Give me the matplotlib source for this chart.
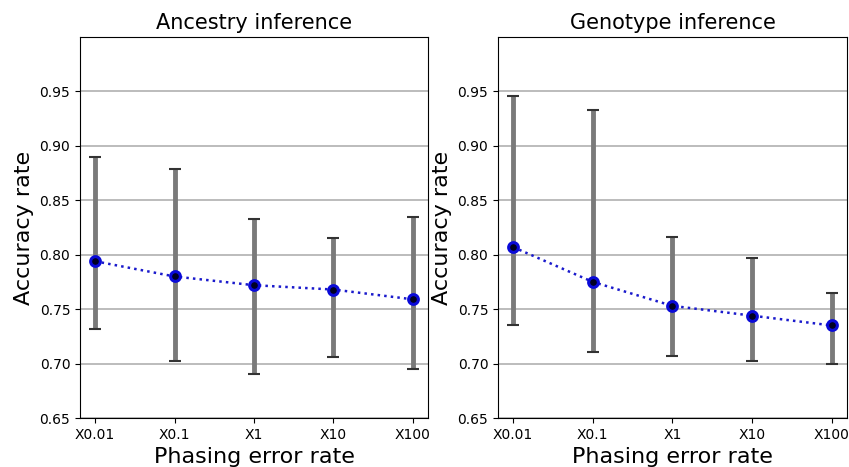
import matplotlib
matplotlib.use("Agg")
import matplotlib.pyplot as plt
import numpy as np

categories = ["X0.01", "X0.1", "X1", "X10", "X100"]
anc_mean = [0.794, 0.780, 0.772, 0.768, 0.759]
anc_low = [0.732, 0.702, 0.690, 0.706, 0.695]
anc_high = [0.890, 0.879, 0.833, 0.815, 0.835]
gen_mean = [0.807, 0.775, 0.753, 0.744, 0.735]
gen_low = [0.735, 0.711, 0.707, 0.702, 0.700]
gen_high = [0.946, 0.933, 0.816, 0.797, 0.765]
yticks = [0.65, 0.70, 0.75, 0.80, 0.85, 0.90, 0.95]

fig = plt.figure(figsize=(8.49, 4.67), dpi=100)
ax1 = fig.add_axes([80 / 849, 1 - 418 / 467, 348 / 849, 381 / 467])
ax2 = fig.add_axes([498 / 849, 1 - 418 / 467, 349 / 849, 381 / 467])

def draw(ax, title, mean, low, high):
    x = np.arange(len(categories))
    mean = np.array(mean); low = np.array(low); high = np.array(high)
    ax.errorbar(x, mean, yerr=[mean - low, high - mean], fmt="none",
                ecolor="#7a7a7a", elinewidth=3.5, capsize=0, zorder=2)
    ax.errorbar(x, mean, yerr=[mean - low, high - mean], fmt="none",
                ecolor="#333333", elinewidth=0, capsize=4, capthick=1.5, zorder=2.5)
    ax.plot(x, mean, linestyle=":", color="#1a1acc", linewidth=1.8,
            marker="o", markersize=7, markerfacecolor="#000022",
            markeredgecolor="#0a0ad8", markeredgewidth=2.2, zorder=3)
    ax.set_xticks(x)
    ax.set_xticklabels(categories, fontsize=10)
    ax.set_yticks(yticks)
    ax.set_yticklabels(["%.2f" % v for v in yticks], fontsize=10)
    ax.set_ylim(0.65, 1.0)
    ax.set_xlim(-0.19, 4.19)
    ax.yaxis.grid(True, color="#b0b0b0", linewidth=1.2)
    ax.set_axisbelow(True)
    ax.set_title(title, fontsize=15)
    ax.set_xlabel("Phasing error rate", fontsize=16)
    ax.set_ylabel("Accuracy rate", fontsize=16, labelpad=4)

draw(ax1, "Ancestry inference", anc_mean, anc_low, anc_high)
draw(ax2, "Genotype inference", gen_mean, gen_low, gen_high)

fig.savefig("out.png", dpi=100)
